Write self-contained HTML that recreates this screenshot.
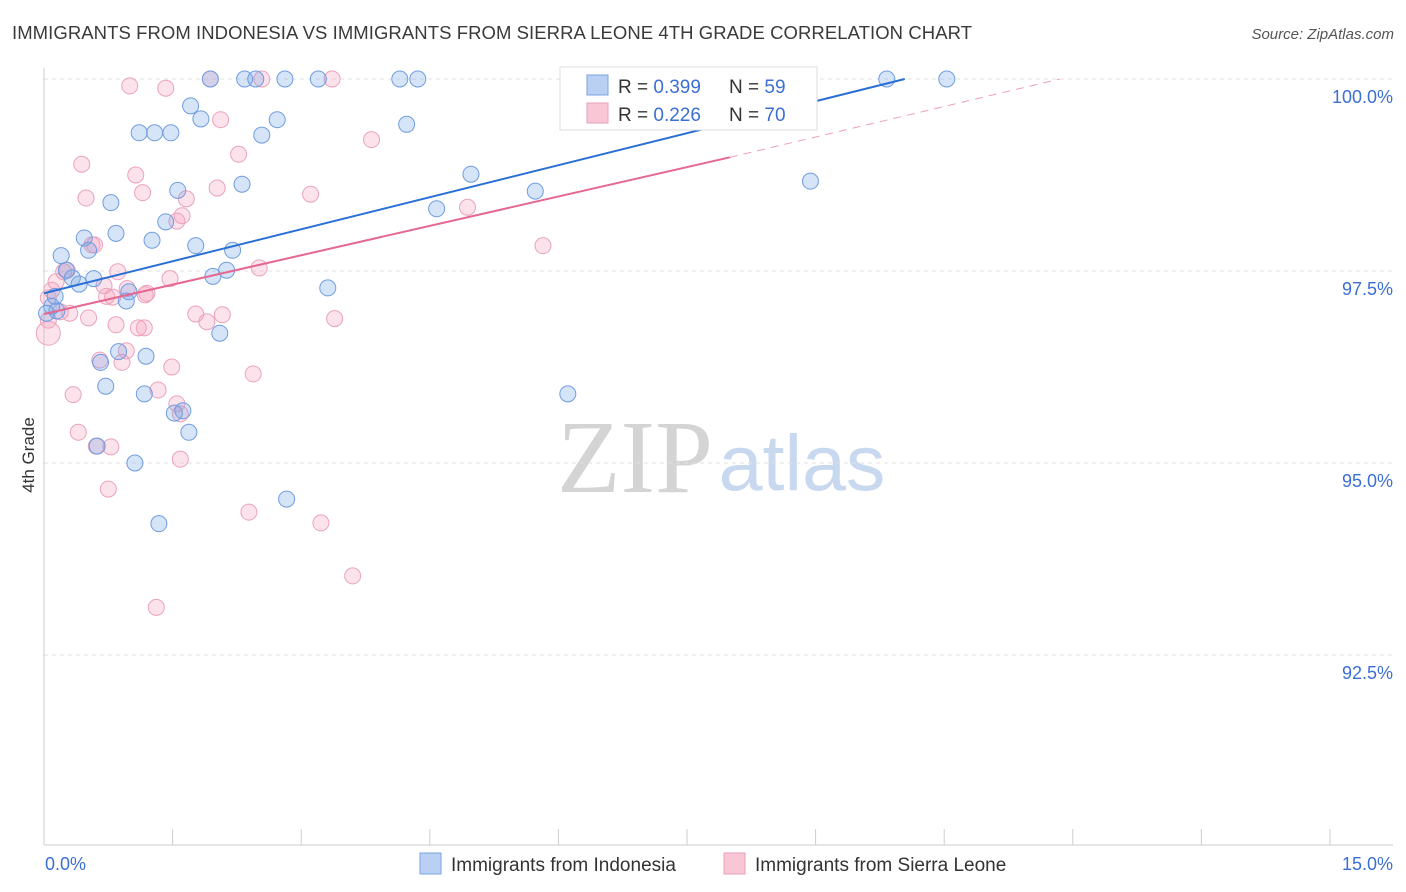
<!DOCTYPE html>
<html><head><meta charset="utf-8"><style>
body{margin:0;background:#fff;font-family:"Liberation Sans",sans-serif;}
#wrap{position:relative;width:1406px;height:892px;overflow:hidden;}
</style></head><body>
<div id="wrap">
<svg id="chart" width="1406" height="892" xmlns="http://www.w3.org/2000/svg">
<text x="12" y="39" font-size="18.5" fill="#3a3a3a" textLength="960">IMMIGRANTS FROM INDONESIA VS IMMIGRANTS FROM SIERRA LEONE 4TH GRADE CORRELATION CHART</text>
<text x="1394" y="39" font-size="15" fill="#555" font-style="italic" text-anchor="end">Source: ZipAtlas.com</text>
<text x="635" y="492" font-size="104" fill="#d4d4d4" font-family="Liberation Serif,serif" text-anchor="middle">ZIP</text>
<text x="802" y="490" font-size="79" fill="#c7d8ef" text-anchor="middle">atlas</text>
<text transform="translate(34,455) rotate(-90)" font-size="17" fill="#333" text-anchor="middle">4th Grade</text>
<g id="grid"></g><g id="axes"></g><g id="pts"></g><g id="lines"></g>
<g>
<rect x="560" y="67" width="257" height="63" fill="#fff" stroke="#ddd"/>
<rect x="587" y="75" width="21" height="20" fill="#b9d0f3" stroke="#7aa3e0"/>
<rect x="587" y="103" width="21" height="20" fill="#f9c6d6" stroke="#e8a0b8"/>
<text x="618" y="93" font-size="19" fill="#333">R = <tspan fill="#3b6fd4">0.399</tspan></text>
<text x="729" y="93" font-size="19" fill="#333">N = <tspan fill="#3b6fd4">59</tspan></text>
<text x="618" y="121" font-size="19" fill="#333">R = <tspan fill="#3b6fd4">0.226</tspan></text>
<text x="729" y="121" font-size="19" fill="#333">N = <tspan fill="#3b6fd4">70</tspan></text>
</g>
<g>
<rect x="420" y="853" width="21" height="21" fill="#b9d0f3" stroke="#7aa3e0"/>
<text x="451" y="871" font-size="19" fill="#333">Immigrants from Indonesia</text>
<rect x="724" y="853" width="21" height="21" fill="#f9c6d6" stroke="#e8a0b8"/>
<text x="755" y="871" font-size="19" fill="#333">Immigrants from Sierra Leone</text>
</g>
</svg>
</div>
<script>
const blueX=[1.94,2.34,2.47,2.81,3.20,4.15,4.36,9.83,10.53,1.71,1.83,2.72,4.23,1.11,1.29,1.48,2.54,4.98,2.31,1.56,5.73,8.94,0.78,4.58,1.42,0.84,0.47,1.26,1.77,2.20,0.20,0.52,0.26,2.13,1.97,0.58,0.41,0.33,3.31,0.99,0.96,0.13,0.09,0.15,2.05,0.87,1.19,0.66,0.72,1.17,6.11,1.62,1.52,1.69,0.62,1.06,2.83,1.34,0.03];
const blueY=[100,100,100,100,100,100,100,100,100,99.65,99.48,99.47,99.41,99.30,99.30,99.30,99.27,98.76,98.63,98.55,98.54,98.67,98.39,98.31,98.14,97.99,97.93,97.90,97.83,97.77,97.70,97.77,97.51,97.51,97.43,97.40,97.33,97.41,97.28,97.23,97.11,97.17,97.04,96.98,96.69,96.45,96.39,96.31,96.00,95.90,95.90,95.68,95.65,95.40,95.22,95.00,94.53,94.21,96.95];
const pinkX=[1.94,2.54,3.36,1.00,1.42,6.21,2.06,3.82,2.27,0.44,1.07,2.02,3.11,1.15,0.49,1.66,4.94,1.61,1.55,5.82,0.56,0.59,2.51,0.86,0.23,1.47,0.14,0.70,0.97,1.20,0.80,0.73,1.18,0.05,0.30,0.52,1.77,2.08,1.90,3.39,0.84,1.10,1.17,0.05,0.96,0.65,0.91,1.49,2.44,0.34,1.33,1.55,1.59,0.40,0.61,0.78,1.59,0.75,2.39,3.23,3.60,1.31,0.05,0.19,0.09,0.27];
const pinkY=[100,100,100,99.91,99.88,99.54,99.47,99.21,99.02,98.89,98.75,98.58,98.50,98.52,98.45,98.44,98.33,98.22,98.15,97.83,97.84,97.84,97.54,97.49,97.49,97.40,97.36,97.31,97.27,97.21,97.16,97.17,97.19,97.15,96.95,96.89,96.94,96.93,96.84,96.88,96.80,96.76,96.76,96.69,96.46,96.34,96.31,96.25,96.16,95.89,95.95,95.77,95.64,95.40,95.22,95.21,95.05,94.66,94.36,94.22,93.53,93.12,96.86,96.97,97.25,97.51];
const yTicks=[100,97.5,95,92.5];
const yTickLabels=["100.0%","97.5%","95.0%","92.5%"];
const blueTrend=[[0,97.21],[10.04,100]];
const pinkTrend=[[0,96.94],[8.0,98.98]];
const pinkDash=[[8.0,98.98],[11.85,100]];
const NS="http://www.w3.org/2000/svg";
const sx=v=>44+v/1.5*128.6;
const sy=v=>79+(100-v)/2.5*192;
function mk(tag,attrs,parent){const e=document.createElementNS(NS,tag);for(const k in attrs)e.setAttribute(k,attrs[k]);document.getElementById(parent).appendChild(e);return e;}
yTicks.forEach((t,i)=>{
  const l=mk('line',{x1:44,x2:1393,y1:sy(t),y2:sy(t),stroke:'#e2e2e2','stroke-dasharray':'4,4'},'grid');
  
  
  const tx=mk('text',{x:1393,y:sy(t)+24,'font-size':18,fill:'#3b6fd4','text-anchor':'end'},'grid');
  tx.textContent=yTickLabels[i];
  
  
});
let ax=mk('line',{x1:44,x2:44,y1:68,y2:845,stroke:'#ccc'},'axes');


ax=mk('line',{x1:44,x2:1393,y1:845,y2:845,stroke:'#ccc'},'axes');


for(let i=0;i<=10;i++){
  const t=mk('line',{x1:sx(i*1.5),x2:sx(i*1.5),y1:829,y2:845,stroke:'#ccc'},'axes');
  
  
}
let xl=mk('text',{x:45,y:870,'font-size':18,fill:'#3b6fd4'},'axes');xl.textContent='0.0%';


xl=mk('text',{x:1393,y:870,'font-size':18,fill:'#3b6fd4','text-anchor':'end'},'axes');xl.textContent='15.0%';


pinkX.forEach((x,i)=>{
  const c=mk('circle',{cx:sx(x),cy:sy(pinkY[i]),r:(i===43?12:8),fill:'rgba(244,160,188,0.3)',stroke:'#eaa3bb','stroke-width':1},'pts');
  
  
});
blueX.forEach((x,i)=>{
  const c=mk('circle',{cx:sx(x),cy:sy(blueY[i]),r:8,fill:'rgba(120,165,230,0.3)',stroke:'#6f9ce0','stroke-width':1},'pts');
  
  
});
let tl=mk('line',{x1:sx(blueTrend[0][0]),y1:sy(blueTrend[0][1]),x2:sx(blueTrend[1][0]),y2:sy(blueTrend[1][1]),stroke:'#2a6fd6','stroke-width':2},'lines');


tl=mk('line',{x1:sx(pinkTrend[0][0]),y1:sy(pinkTrend[0][1]),x2:sx(pinkTrend[1][0]),y2:sy(pinkTrend[1][1]),stroke:'#e56892','stroke-width':2},'lines');


tl=mk('line',{x1:sx(pinkDash[0][0]),y1:sy(pinkDash[0][1]),x2:sx(pinkDash[1][0]),y2:sy(pinkDash[1][1]),stroke:'#eea0b8','stroke-width':1,'stroke-dasharray':'8,6'},'lines');


</script>
</body></html>
